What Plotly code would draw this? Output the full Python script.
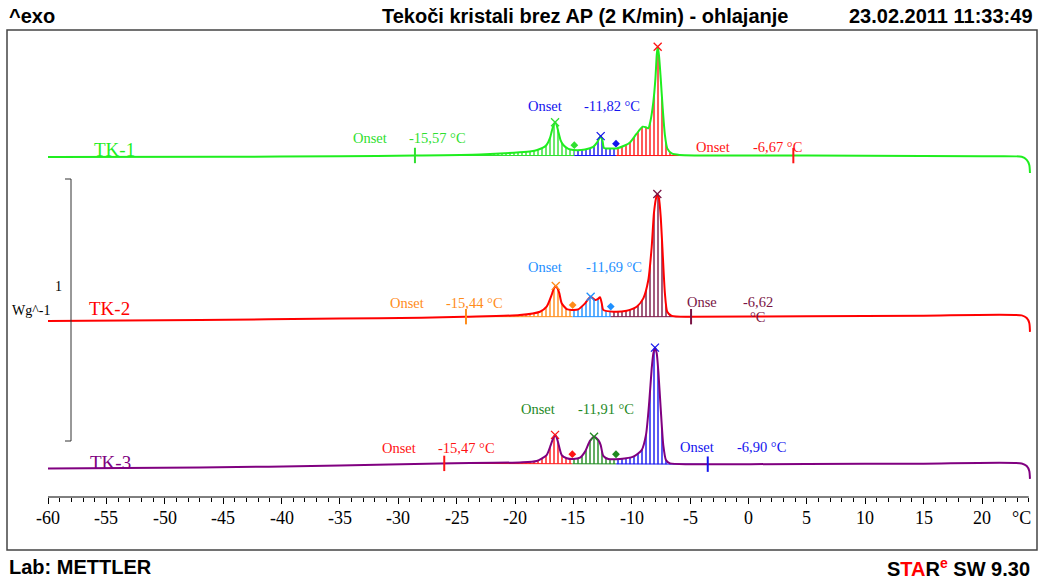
import numpy as np
import plotly.graph_objects as go

# ---------------- data ----------------
# Temperature in degC, heat flow in W/g (exo up), each curve relative to its own level
T1 = [-60, -45, -35, -28.5, -23, -19.6, -18.6, -18.1, -17.6, -17.3, -17.0, -16.86, -16.7, -16.57, -16.43,
      -16.29, -16.1, -15.86, -15.43, -15.0, -14.0, -13.3, -12.95, -12.66, -12.5, -12.38, -11.8, -11.3,
      -10.6, -10.15, -9.6, -9.06, -8.75, -8.58, -8.41, -8.15, -7.97, -7.86, -7.78, -7.67, -7.52, -7.35,
      -7.16, -6.96, -6.58, -5.9, 0, 10, 20, 23.4, 23.83, 24.05, 24.11]
HF1 = [-0.004, -0.003, -0.001, 0.002, 0.006, 0.014, 0.018, 0.023, 0.032, 0.042, 0.069, 0.093, 0.118, 0.129,
       0.118, 0.093, 0.061, 0.042, 0.027, 0.023, 0.025, 0.035, 0.053, 0.076, 0.057, 0.031, 0.029, 0.029,
       0.040, 0.052, 0.084, 0.112, 0.109, 0.106, 0.131, 0.207, 0.297, 0.385, 0.417, 0.385, 0.297, 0.183,
       0.080, 0.029, 0.010, 0.004, 0.002, 0.001, -0.001, -0.003, -0.015, -0.034, -0.065]

T2 = [-60, -47, -35, -28, -24.3, -19.6, -17.86, -17.29, -16.86, -16.68, -16.51, -16.35, -16.2, -16.0,
      -15.57, -15.14, -14.58, -14.0, -13.52, -13.15, -12.95, -12.72, -12.57, -12.44, -11.58, -10.43,
      -9.58, -9.01, -8.58, -8.29, -8.1, -7.92, -7.81, -7.67, -7.52, -7.35, -7.16, -6.96, -6.58, -5,
      5, 15, 23.4, 23.83, 24.05, 24.11]
HF2 = [-0.011, -0.008, -0.002, 0.001, 0.005, 0.011, 0.024, 0.043, 0.088, 0.112, 0.122, 0.112, 0.094, 0.056,
       0.034, 0.031, 0.033, 0.056, 0.081, 0.069, 0.071, 0.079, 0.056, 0.031, 0.024, 0.028,
       0.043, 0.075, 0.145, 0.272, 0.400, 0.457, 0.473, 0.457, 0.387, 0.247, 0.094, 0.024, 0.008, 0.005,
       0.007, 0.009, 0.010, 0.0, -0.019, -0.053]

T3 = [-60, -47, -35, -26.4, -19.6, -18.14, -17.29, -16.94, -16.75, -16.57, -16.43, -16.29, -16.0, -15.57,
      -15.01, -14.43, -14.0, -13.58, -13.23, -12.86, -12.66, -12.44, -12.01, -11.01, -9.87, -9.15, -8.78,
      -8.5, -8.29, -8.15, -8.01, -7.86, -7.72, -7.52, -7.3, -7.07, -6.72, -5, 5, 15, 23.4, 23.83, 24.05, 24.11]
HF3 = [-0.013, -0.010, -0.002, 0.006, 0.010, 0.015, 0.038, 0.076, 0.100, 0.115, 0.105, 0.083, 0.038, 0.026,
       0.023, 0.028, 0.051, 0.092, 0.108, 0.095, 0.076, 0.035, 0.023, 0.023, 0.032, 0.057, 0.115,
       0.242, 0.369, 0.426, 0.448, 0.426, 0.356, 0.216, 0.076, 0.019, 0.006, 0.003, 0.004, 0.005, 0.006,
       -0.004, -0.023, -0.053]

NAMES = ["TK-1", "TK-2", "TK-3"]
LIMITS = [[-28.57, 3.84], [-24.20, -4.92], [-26.06, -3.49]]      # integration limits
DIVIDERS = [[-14.92, -11.35], [-15.06, -11.80], [-15.09, -11.35]]  # partial-area boundaries
PEAKS = [[-16.57, -12.66, -7.78], [-16.51, -13.52, -7.81], [-16.57, -13.23, -8.01]]
ONSETS = [[-15.57, -11.82, -6.67], [-15.44, -11.69, -6.62], [-15.47, -11.91, -6.90]]
X_TICKS = list(range(-60, 21, 5))
X_MINOR = list(range(-60, 25))
SCALE_BAR_WG = 1

# ---------------- styling / layout ----------------
W, H = 1041, 581
PX_PER_WG = 262.0
Y_TOP = H / PX_PER_WG
OFFSETS = [(H - 156) / PX_PER_WG, (H - 318) / PX_PER_WG, (H - 465) / PX_PER_WG]
LINE_COLORS = ["#1fee1f", "#ff0000", "#800080"]
SEG_COLORS = [["#2fe02f", "#1414ee", "#ff1414"],
              ["#ff8c1a", "#1e90ff", "#7a1545"],
              ["#ff1414", "#1f8a1f", "#1414ee"]]
SERIF = "Liberation Serif"
SANS = "Liberation Sans"
XR = [-60 - 48 / 11.675, -60 + (W - 48) / 11.675]

LABEL_POS = [
    [((370, 138), (437, 138)), ((545, 106), (612, 106)), ((713, 147), (777, 147))],
    [((407, 303), (474, 303)), ((545, 267), (614, 267)), ((702, 302), (758, 302))],
    [((399, 448), (466, 448)), ((538, 409), (606, 409)), ((697, 447), (761, 447))],
]
NAME_POS = [(114, 149), (109, 308), (110, 462)]


def px(x):
    return x / W


def py(y):
    return 1 - y / H


fig = go.Figure()
annotations = []

curves = [(T1, HF1), (T2, HF2), (T3, HF3)]

# hatched partial areas first
for k, (T, HF) in enumerate(curves):
    Ta = np.array(T, float)
    Ha = np.array(HF, float)
    off = OFFSETS[k]
    lim = LIMITS[k]
    bl = np.interp(lim, Ta, Ha)

    def base(t):
        return bl[0] + (bl[1] - bl[0]) * (t - lim[0]) / (lim[1] - lim[0])

    edges = [lim[0]] + DIVIDERS[k] + [lim[1]]
    for i, c in enumerate(SEG_COLORS[k]):
        a, b = edges[i], edges[i + 1]
        m = (Ta > a) & (Ta < b)
        xs = np.concatenate([[a], Ta[m], [b]])
        ys = np.concatenate([[np.interp(a, Ta, Ha)], Ha[m], [np.interp(b, Ta, Ha)]]) + off
        fig.add_trace(go.Scatter(x=[a, b], y=[base(a) + off, base(b) + off], mode="lines",
                                 line=dict(color=c, width=1), hoverinfo="skip", showlegend=False))
        fig.add_trace(go.Scatter(x=xs, y=ys, mode="lines",
                                 line=dict(width=0, shape="spline", smoothing=0.6, color=c),
                                 fill="tonexty", fillcolor="white",
                                 fillpattern=dict(shape="|", fgcolor=c, bgcolor="white", fgopacity=1,
                                                  size=4, solidity=0.35),
                                 hoverinfo="skip", showlegend=False))

# curves
for k, (T, HF) in enumerate(curves):
    off = OFFSETS[k]
    fig.add_trace(go.Scatter(x=T, y=[v + off for v in HF], mode="lines", name=NAMES[k],
                             line=dict(color=LINE_COLORS[k], width=2, shape="spline", smoothing=0.6),
                             showlegend=False))

# markers and labels
for k, (T, HF) in enumerate(curves):
    Ta = np.array(T, float)
    Ha = np.array(HF, float)
    off = OFFSETS[k]
    segc = SEG_COLORS[k]
    pk = PEAKS[k]
    fig.add_trace(go.Scatter(x=pk, y=np.interp(pk, Ta, Ha) + off, mode="markers",
                             marker=dict(symbol="x-thin", size=8, color=segc,
                                         line=dict(width=1.3, color=segc)),
                             hoverinfo="skip", showlegend=False))
    dv = DIVIDERS[k]
    fig.add_trace(go.Scatter(x=dv, y=np.interp(dv, Ta, Ha) + off + 0.018, mode="markers",
                             marker=dict(symbol="diamond", size=6, color=segc[:2]),
                             hoverinfo="skip", showlegend=False))
    lim = LIMITS[k]
    fig.add_trace(go.Scatter(x=lim, y=np.interp(lim, Ta, Ha) + off, mode="markers",
                             marker=dict(symbol="line-ns", size=11, color=[segc[0], segc[2]],
                                         line=dict(width=2, color=[segc[0], segc[2]])),
                             hoverinfo="skip", showlegend=False))

    for j in range(3):
        (wx, wy), (vx, vy) = LABEL_POS[k][j]
        col = segc[j]
        word = "Onse" if (k == 1 and j == 2) else "Onset"
        val = ("%.2f" % ONSETS[k][j]).replace(".", ",")
        annotations.append(dict(x=px(wx), y=py(wy), text=word, font=dict(family=SERIF, size=14.5, color=col)))
        if k == 1 and j == 2:
            annotations.append(dict(x=px(vx), y=py(vy), text=val, font=dict(family=SERIF, size=14.5, color=col)))
            annotations.append(dict(x=px(757), y=py(317), text="°C", font=dict(family=SERIF, size=14.5, color=col)))
        else:
            annotations.append(dict(x=px(vx), y=py(vy), text=val + " °C",
                                    font=dict(family=SERIF, size=14.5, color=col)))
    nx, ny = NAME_POS[k]
    annotations.append(dict(x=px(nx), y=py(ny), text=NAMES[k],
                            font=dict(family=SERIF, size=19, color=LINE_COLORS[k])))

hdr = dict(family=SANS, size=20, color="black")
annotations += [
    dict(x=px(7), y=py(16), text="<b>^exo</b>", xanchor="left", font=hdr),
    dict(x=px(585), y=py(16), text="<b>Tekoči kristali brez AP (2 K/min) - ohlajanje</b>", font=hdr),
    dict(x=px(1035), y=py(16), text="<b>23.02.2011 11:33:49</b>", xanchor="right", font=hdr),
    dict(x=px(7), y=py(567), text="<b>Lab: METTLER</b>", xanchor="left", font=hdr),
    dict(x=px(1032), y=py(567),
         text='<b>S<span style="color:#ff0000">TA</span>R<sup><span style="color:#ff0000">e</span></sup> SW 9.30</b>',
         xanchor="right", font=hdr),
    dict(x=px(1021), y=py(518), text="°C", font=dict(family=SERIF, size=18, color="black")),
    dict(x=px(58), y=py(287), text="1", font=dict(family=SERIF, size=14, color="black")),
    dict(x=px(31), y=py(310), text="Wg^-1", font=dict(family=SERIF, size=14, color="black")),
]
for a in annotations:
    a.setdefault("xanchor", "center")
    a.update(xref="paper", yref="paper", showarrow=False, yanchor="middle")

AXIS_Y = py(497)
# tick labels placed on the x scale
for v in X_TICKS:
    annotations.append(dict(x=v, xref="x", y=py(518), yref="paper", text=str(v), showarrow=False,
                            xanchor="center", yanchor="middle",
                            font=dict(family=SERIF, size=18, color="black")))

shapes = [
    dict(type="rect", xref="paper", yref="paper", x0=px(7), x1=px(1037), y0=py(550), y1=py(30),
         line=dict(color="#444444", width=1.5)),
    dict(type="line", xref="x", yref="paper", x0=X_MINOR[0], x1=X_MINOR[-1], y0=AXIS_Y, y1=AXIS_Y,
         line=dict(color="black", width=1)),
]
sb_top = (H - 179) / PX_PER_WG
sb_x1 = -60 + (71 - 48) / 11.675
sb_x0 = -60 + (65 - 48) / 11.675
shapes.append(dict(type="path", xref="x", yref="y",
                   path=f"M {sb_x0},{sb_top} L {sb_x1},{sb_top} L {sb_x1},{sb_top - SCALE_BAR_WG} L {sb_x0},{sb_top - SCALE_BAR_WG}",
                   line=dict(color="#333333", width=1)))

fig.update_layout(
    width=W, height=H, margin=dict(l=0, r=0, t=0, b=0),
    paper_bgcolor="white", plot_bgcolor="white",
    font=dict(family=SERIF, color="black"),
    showlegend=False,
    annotations=annotations, shapes=shapes,
    xaxis=dict(range=XR, domain=[0, 1], anchor="free", position=AXIS_Y, showgrid=False, zeroline=False,
               showline=False, ticks="outside", ticklen=6, tickwidth=1, tickcolor="black",
               tickmode="array", tickvals=X_TICKS, showticklabels=False,
               minor=dict(tickmode="array", tickvals=X_MINOR, ticks="outside", ticklen=4,
                          tickwidth=1, tickcolor="black"),
               fixedrange=True),
    yaxis=dict(range=[0, Y_TOP], domain=[0, 1], visible=False, fixedrange=True),
)

fig.write_html("out.html")
